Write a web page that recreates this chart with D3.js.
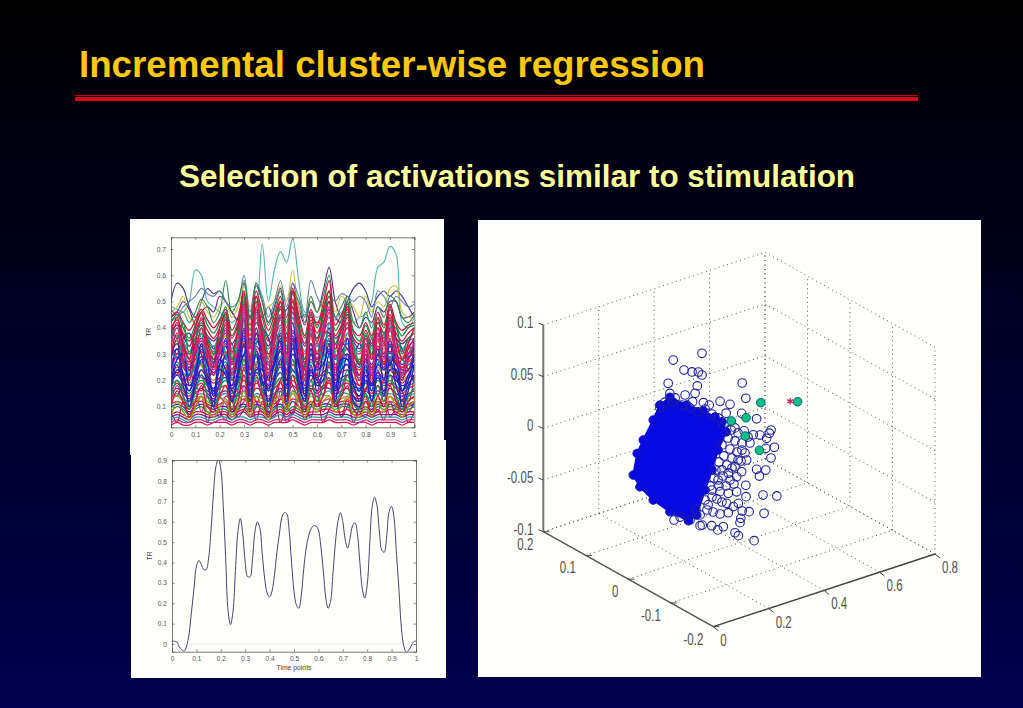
<!DOCTYPE html>
<html>
<head>
<meta charset="utf-8">
<script src="https://cdn.jsdelivr.net/npm/d3@7"></script>
<style>
  html, body { margin: 0; padding: 0; background: #000; overflow: hidden; }
  text { font-family: "Liberation Sans", Arial, sans-serif; }
</style>
</head>
<body>
<div id="chart"></div>
<script>
const titleText = 'Incremental cluster-wise regression';
const subtitleText = 'Selection of activations similar to stimulation';

// top left plot, TR in hundredths, one value every 0.025 of the time axis
const topYTicks = [0.1, 0.2, 0.3, 0.4, 0.5, 0.6, 0.7];
const timeTicks = [0, 0.1, 0.2, 0.3, 0.4, 0.5, 0.6, 0.7, 0.8, 0.9, 1];
const upperTraces = [
  [48,47,46,50,62,60,50,48,46,44,42,44,46,44,48,72,50,62,69,65,74,58,46,46,44,45,44,43,46,45,42,44,45,50,63,65,71,68,42,40,44],
  [50,57,55,48,44,50,55,53,54,50,46,43,48,44,46,44,48,43,44,47,50,44,45,44,42,46,50,44,42,50,55,57,54,48,52,54,52,54,52,48,44],
  [44,46,50,47,41,46,48,46,52,50,46,43,57,44,56,50,42,48,55,44,57,48,41,50,46,54,63,50,44,52,46,40,44,42,48,46,50,50,44,44,46],
  [46,48,52,44,42,50,46,44,48,50,44,48,56,48,52,46,48,50,56,50,62,48,44,52,46,50,54,46,52,50,48,44,52,46,50,48,55,56,46,44,44],
  [47,45,48,50,52,55,53,52,54,50,48,50,60,46,57,52,44,50,58,48,57,52,44,58,52,48,52,50,53,52,50,52,50,44,54,52,48,52,50,48,49],
  [43,44,46,42,46,51,48,42,46,58,46,50,58,43,57,50,41,47,54,42,54,50,42,52,46,52,60,44,48,52,42,40,46,40,48,44,52,50,44,42,45]
];
const upperColors = ['#55b5ad', '#3a3a90', '#5a2a80', '#c8c040', '#6a80b0', '#2a8a50'];
const bandTraces = [
  [3,4,3,3,4,4,3,4,4,4,3,4,4,3,4,4,3,4,4,4,5,4,3,4,4,4,5,4,4,4,3,4,4,3,4,4,4,4,3,4,4],
  [34,30,36,38,30,26,36,32,36,28,34,24,30,36,34,40,36,30,26,38,32,38,28,34,28,36,30,34,26,36,30,34,28,36,26,38,30,36,32,28,36],
  [44,46,42,39,43,47,43,40,43,47,39,44,53,41,54,46,39,45,52,40,55,45,37,47,41,49,58,41,45,49,39,37,42,37,46,41,49,42,39,41,42],
  [42,45,40,36,41,46,41,38,42,48,37,42,51,39,52,44,37,43,50,38,53,43,36,45,40,47,54,39,43,50,38,35,41,36,44,40,47,41,37,40,41],
  [40,43,38,35,39,43,39,36,40,45,36,41,49,37,50,41,35,41,47,36,51,41,34,43,38,44,50,37,41,47,36,34,39,34,42,38,45,38,35,38,40],
  [38,41,37,33,38,41,37,35,38,43,34,38,47,35,47,39,33,39,45,35,48,39,33,41,36,42,47,36,39,45,35,32,37,33,40,36,43,36,34,36,38],
  [36,40,35,31,36,40,35,33,36,41,32,37,45,33,45,37,32,37,43,33,46,37,31,39,35,40,44,34,38,42,33,31,36,32,38,35,41,35,32,35,36],
  [34,37,33,30,34,38,34,31,35,39,31,35,43,32,42,36,30,36,41,32,44,35,30,37,33,38,42,32,36,40,32,30,34,30,37,33,39,33,31,33,35],
  [33,35,32,28,33,36,32,30,33,37,29,33,41,30,40,34,29,34,39,30,42,33,28,36,31,36,40,31,34,38,30,28,33,29,35,32,37,32,29,32,33],
  [31,34,30,27,31,35,31,28,32,35,28,32,39,29,38,32,27,32,37,29,39,32,27,34,30,34,37,29,33,36,29,27,31,28,33,30,35,30,28,30,32],
  [29,32,28,25,30,33,29,27,30,33,26,30,37,27,36,31,26,31,35,27,37,30,25,32,28,33,35,28,31,34,27,25,30,26,32,29,33,29,26,29,30],
  [26,22,32,28,24,34,30,25,30,34,27,33,38,28,26,30,26,24,28,30,36,30,24,20,26,32,34,24,28,30,26,22,28,24,30,34,26,24,28,24,20],
  [30,34,26,24,30,26,22,28,24,30,22,26,34,24,30,25,20,26,32,28,24,22,26,32,27,30,36,26,30,34,24,28,24,22,30,26,28,30,22,30,32],
  [27,30,27,24,28,31,27,25,28,31,24,28,35,25,33,29,24,29,33,26,35,28,24,30,27,31,33,26,29,32,26,24,28,25,30,27,31,27,25,27,29],
  [25,29,25,22,26,29,26,23,26,29,23,27,33,24,31,27,23,27,31,24,32,27,22,28,25,29,31,25,28,30,24,22,27,23,28,25,29,26,23,26,27],
  [24,27,23,21,25,27,24,22,25,27,21,25,30,22,29,25,21,25,29,23,30,25,21,27,24,27,29,23,26,28,23,21,25,22,26,24,27,24,22,24,26],
  [22,30,27,22,24,21,20,16,14,11,8,9,12,16,12,8,7,9,13,18,28,21,16,24,20,17,21,15,18,22,16,13,17,19,23,20,27,30,21,24,28],
  [22,25,22,19,23,26,22,20,23,25,20,23,28,21,27,24,20,24,27,21,28,23,20,25,22,25,27,22,24,26,21,20,23,21,25,22,25,23,20,22,24],
  [21,23,20,18,21,24,21,19,21,23,18,22,26,19,25,22,18,22,25,20,26,22,18,23,21,23,25,20,23,24,20,18,22,19,23,21,24,21,19,21,22],
  [19,22,19,16,20,22,19,17,20,21,17,20,24,18,23,20,17,20,23,18,24,20,17,22,19,22,23,19,21,22,18,17,20,18,21,19,22,20,18,19,21],
  [17,14,20,24,18,16,22,14,18,26,16,14,25,18,22,14,18,12,20,24,18,14,20,16,22,14,26,18,14,22,18,12,16,22,14,20,18,24,16,12,22],
  [18,20,17,15,18,20,18,16,18,20,15,19,22,16,21,19,16,18,21,17,22,19,16,20,18,20,21,17,20,20,17,16,19,16,20,18,20,18,16,18,19],
  [16,19,16,14,17,19,16,15,17,18,14,17,20,15,19,17,14,17,19,15,20,17,15,18,16,18,19,16,18,19,16,14,17,15,18,16,19,17,15,17,18],
  [15,17,15,13,15,17,15,13,15,16,13,15,18,14,17,16,13,15,17,14,18,16,13,17,15,17,17,15,16,17,14,13,16,14,16,15,17,15,14,15,16],
  [14,15,13,12,14,15,14,12,14,15,12,14,16,12,15,14,12,14,16,13,16,14,12,15,14,15,16,13,15,15,13,12,14,13,15,14,15,14,12,14,15],
  [12,18,14,10,16,8,14,10,6,14,12,8,18,6,10,16,8,6,16,4,8,14,10,6,16,8,12,14,6,10,14,8,6,12,8,16,6,10,14,8,12],
  [12,14,12,10,13,14,12,11,13,13,10,13,14,11,14,13,11,13,14,12,15,13,11,14,12,14,14,12,13,14,12,11,13,11,13,12,14,12,11,13,13],
  [11,12,11,9,12,12,11,10,11,12,9,11,13,10,12,11,10,11,13,11,13,12,10,12,11,12,13,11,12,12,11,10,12,10,12,11,12,11,10,11,12],
  [10,11,10,8,10,11,10,9,10,10,8,10,11,9,11,10,8,10,11,9,12,10,9,11,10,11,11,10,11,11,9,9,10,9,11,10,11,10,9,10,11],
  [8,4,12,6,10,14,4,12,8,5,14,6,9,13,5,12,6,14,4,10,7,13,5,10,14,4,9,12,6,13,4,10,14,6,9,5,12,7,13,4,8],
  [8,10,9,7,9,10,8,8,9,9,7,9,10,8,10,9,7,9,10,8,10,9,8,10,9,10,10,9,10,10,8,8,9,8,10,9,10,9,8,9,10],
  [7,8,7,6,8,8,7,7,8,8,6,8,9,7,8,8,6,8,9,7,9,8,7,8,8,9,9,8,8,9,7,7,8,7,8,8,9,8,7,8,8],
  [6,7,6,5,7,7,6,6,7,7,5,7,8,6,7,7,5,7,8,6,8,7,6,7,7,7,8,7,7,7,6,6,7,6,7,7,7,7,6,7,7],
  [5,6,5,4,6,6,5,5,6,6,5,6,6,5,6,6,5,6,7,5,7,6,5,6,6,6,7,6,6,6,5,5,6,5,6,6,6,6,5,6,6],
  [4,5,4,4,5,5,4,4,5,5,4,5,5,4,5,5,4,5,5,5,6,5,4,5,5,5,6,5,5,5,4,4,5,4,5,5,5,5,4,5,5]
];
const bandColors = ['#d0144c', '#2424c4', '#c81840', '#148a4a', '#d8163c', '#7a1e8c', '#1c9c9c', '#c42a90', '#9a9c20'];
// the steep traces that cross the band, drawn last
const steepTraces = [
  [30,38,28,20,30,40,28,22,32,42,22,30,46,24,44,32,20,34,44,22,48,32,18,38,26,36,46,22,32,42,24,18,30,20,36,26,40,28,20,28,32],
  [24,32,22,16,24,34,22,16,26,36,16,24,40,18,38,26,16,28,38,18,42,26,14,32,20,30,40,18,26,36,18,14,24,16,30,20,34,22,16,22,26],
  [18,26,18,12,20,28,18,12,20,30,12,20,34,14,32,20,12,22,32,14,36,20,12,26,16,24,34,14,20,30,14,12,20,12,24,16,28,18,12,18,22],
  [36,42,32,24,34,44,32,26,36,44,26,34,50,28,48,36,24,38,48,26,50,36,22,42,30,40,50,28,36,44,28,22,32,24,40,30,44,32,24,32,36],
  [14,20,14,9,16,22,14,10,16,24,9,16,28,10,26,16,9,18,26,11,28,16,9,20,12,18,27,11,16,24,11,9,15,10,18,12,22,14,9,14,17],
  [32,28,36,22,26,38,24,30,38,30,24,34,42,20,34,40,26,30,40,26,44,38,26,30,34,28,42,30,24,38,34,26,24,30,26,38,28,34,28,26,30],
  [20,28,30,18,22,32,26,14,28,24,18,30,36,22,30,18,22,26,36,20,30,26,14,30,24,26,32,16,28,28,20,16,26,18,26,24,26,30,16,20,30],
  [10,16,12,7,12,18,10,8,14,18,8,12,22,8,20,14,7,14,20,10,22,14,8,16,10,14,20,10,14,18,9,7,12,8,14,10,18,12,8,12,14],
  [40,36,42,30,36,42,36,30,34,46,28,38,52,34,42,40,30,36,50,30,54,40,28,38,36,44,52,34,40,46,32,26,38,30,42,38,40,40,30,36,38],
  [28,36,20,22,34,30,20,26,34,38,20,28,44,16,40,28,18,38,34,24,38,34,20,34,22,38,38,20,34,32,26,20,28,22,32,24,36,26,24,24,34],
  [16,24,22,10,18,24,20,10,24,22,12,22,30,12,24,24,10,20,28,12,34,18,12,24,18,20,30,12,24,26,12,10,22,12,22,14,24,24,10,16,26],
  [38,44,34,28,40,46,34,28,40,46,30,40,54,32,52,38,28,42,50,30,54,42,26,46,34,46,54,32,40,48,30,26,36,28,44,34,48,36,28,34,40],
  [6,12,8,5,10,14,8,6,10,12,6,10,16,6,14,10,5,12,14,8,16,10,6,12,8,12,14,8,10,14,7,6,10,6,12,8,14,10,6,10,12],
  [34,40,30,26,32,36,30,24,30,40,24,32,48,26,46,34,22,36,44,24,46,34,20,40,28,38,48,24,34,40,26,20,34,22,38,28,42,30,22,30,34]
];
const steepColors = ['#d8123c', '#2020c8', '#3028b8', '#c8144c', '#188a50', '#1c9c9c', '#1c1cd0', '#d0143c', '#188c44', '#7a1e8c', '#2424c0', '#d4103c', '#9a9c20', '#c42a90'];

// bottom left plot, one value every 0.01 of the time axis
const stimYTicks = [0, 0.1, 0.2, 0.3, 0.4, 0.5, 0.6, 0.7, 0.8, 0.9];
const stimValues = [
  0.015,0.013,0.01,-0.015,-0.028,-0.035,-0.01,0.05,0.16,0.27,0.38,0.41,0.39,0.365,0.365,0.42,0.56,0.74,0.87,0.905,
  0.86,0.68,0.42,0.16,0.095,0.16,0.36,0.55,0.615,0.54,0.40,0.33,0.33,0.42,0.55,0.60,0.57,0.44,0.32,0.25,
  0.23,0.26,0.34,0.45,0.54,0.62,0.645,0.64,0.56,0.40,0.26,0.19,0.175,0.24,0.37,0.47,0.53,0.565,0.58,0.58,
  0.56,0.48,0.36,0.23,0.175,0.21,0.35,0.50,0.60,0.645,0.60,0.51,0.47,0.52,0.58,0.595,0.54,0.40,0.27,0.225,
  0.29,0.48,0.67,0.72,0.68,0.55,0.46,0.45,0.53,0.65,0.675,0.62,0.44,0.27,0.08,-0.01,-0.04,-0.03,-0.01,0.01,0.015
];
const zeroLineX = [0.05, 0.95];

const zTicks = [-0.1, -0.05, 0, 0.05, 0.1];
const yTicks = [-0.2, -0.1, 0, 0.1, 0.2];
const xTicks = [0, 0.2, 0.4, 0.6, 0.8];
const zLabels = ['-0.1', '-0.05', '0', '0.05', '0.1'];
const yLabels = ['-0.2', '-0.1', '0', '0.1', '0.2'];
const xLabels = ['0', '0.2', '0.4', '0.6', '0.8'];
const cloudX = [0.150,0.114,0.090,0.054,0.032,0.018,0.042,0.090,0.150,0.217,0.247,0.277,0.302,0.324,0.353,0.338,0.313,0.270,0.211];
const cloudZ = [0.0628,0.0585,0.0461,0.0300,0.0188,-0.0008,-0.0143,-0.0313,-0.0479,-0.0625,-0.0596,-0.0380,-0.0209,-0.0034,0.0115,0.0225,0.0295,0.0391,0.0500];
const pointX = [
  0.266,0.162,0.201,0.230,0.253,0.266,0.144,0.249,0.411,0.424,0.150,0.241,0.205,0.169,0.331,0.367,0.271,0.292,0.232,0.353,
  0.409,0.463,0.515,0.509,0.475,0.499,0.451,0.527,0.496,0.515,0.463,0.496,0.473,0.424,0.486,0.536,0.490,0.436,0.411,0.406,
  0.403,0.385,0.397,0.454,0.343,0.323,0.301,0.259,0.267,0.165,0.331,0.361,0.379,0.355,0.397,0.425,0.391,0.361,0.331,0.367,
  0.391,0.361,0.409,0.385,0.427,0.410,0.114,0.132,0.161,0.194,0.223,0.252,0.277,0.302,0.324,0.356,0.385,0.439,0.421,0.396,
  0.374,0.338,0.324,0.302,0.338,0.288,0.306,0.259,0.223,0.187,
  0.345,0.371,0.396,0.418,0.360,0.385,0.410,0.432,0.338,0.367,0.392,0.345,0.374,0.327,0.356,0.316,0.342,0.309,0.327,0.295,
  0.302,0.277,0.320,0.284,0.244,0.353,0.381,0.407
];
const pointZ = [
  0.0952,0.0978,0.0847,0.0803,0.0782,0.0742,0.0769,0.0651,0.0537,0.0378,0.0666,0.0587,0.0602,0.0605,0.0430,0.0369,0.0470,0.0428,0.0513,0.0296,
  0.0245,0.0145,-0.0009,-0.0035,-0.0023,-0.0076,0.0001,-0.0187,-0.0170,-0.0280,-0.0344,-0.0380,-0.0418,-0.0464,-0.0613,-0.0666,-0.0793,-0.0730,-0.0702,-0.0768,
  -0.0807,-0.0889,-0.0928,-0.1026,-0.0794,-0.0807,-0.0747,-0.0710,-0.0711,-0.0572,-0.0660,-0.0674,-0.0631,-0.0578,-0.0615,-0.0575,-0.0498,-0.0486,-0.0444,-0.0363,
  -0.0353,-0.0292,-0.0320,-0.0250,-0.0222,-0.0111,0.0556,0.0597,0.0573,0.0515,0.0461,0.0397,0.0403,0.0333,0.0276,0.0208,0.0125,-0.0068,-0.0149,-0.0195,
  -0.0253,-0.0240,-0.0325,-0.0403,-0.0550,-0.0534,-0.0619,-0.0606,-0.0623,-0.0563,
  0.0189,0.0118,0.0067,0.0068,0.0050,-0.0001,-0.0043,-0.0004,0.0002,-0.0063,-0.0114,-0.0111,-0.0156,-0.0153,-0.0208,-0.0222,-0.0302,-0.0292,-0.0385,-0.0357,
  -0.0470,-0.0477,-0.0505,-0.0580,-0.0545,-0.0408,-0.0414,-0.0214
];
const selectedX = [0.478,0.372,0.425,0.422,0.473,0.611];
const selectedZ = [0.0288,0.0204,0.0189,0.0014,-0.0169,0.0180];
const stimulationX = [0.584];
const stimulationZ = [0.0209];

const width = 1023, height = 708;
const svg = d3.select('#chart').append('svg').
attr('width', width).
attr('height', height).
style('display', 'block');

const defs = svg.append('defs');
const bg = defs.append('linearGradient').attr('id', 'bg').attr('x1', 0).attr('y1', 0).attr('x2', 0).attr('y2', 1);
bg.append('stop').attr('offset', '0%').attr('stop-color', '#000000');
bg.append('stop').attr('offset', '100%').attr('stop-color', '#00004e');
defs.append('filter').attr('id', 'soft').append('feGaussianBlur').attr('stdDeviation', 0.4);

svg.append('rect').attr('width', width).attr('height', height).attr('fill', 'url(#bg)');

svg.append('text').text(titleText).
attr('x', 79).attr('y', 77).
attr('font-size', 36.7).attr('font-weight', 'bold').attr('fill', '#ffc80a');
svg.append('rect').attr('x', 75).attr('y', 95).attr('width', 843).attr('height', 1).attr('fill', '#c00010');
svg.append('rect').attr('x', 75).attr('y', 97).attr('width', 843).attr('height', 4).attr('fill', '#d80c14');
svg.append('text').text(subtitleText).
attr('x', 179).attr('y', 187).
attr('font-size', 31.45).attr('font-weight', 'bold').attr('fill', '#ffff99');

// white panels behind the plots
const panels = [[131, 440, 315, 238], [130, 219, 314, 236], [478, 220, 503, 457]];
svg.selectAll('.panel').data(panels).enter().append('rect').
attr('class', 'panel').
attr('x', d => d[0]).attr('y', d => d[1]).
attr('width', d => d[2]).attr('height', d => d[3]).
attr('fill', '#fffffc');

function drawFrame(id, xScale, yScale, yValues, xLabel) {
  const g = svg.append('g').attr('class', id);
  const fmt = d => String(d);
  const left = d3.axisLeft(yScale).tickValues(yValues).tickSize(-2.5).tickPadding(5).tickFormat(fmt);
  const right = d3.axisRight(yScale).tickValues(yValues).tickSize(-2.5).tickFormat('');
  const bottom = d3.axisBottom(xScale).tickValues(timeTicks).tickSize(-2.5).tickPadding(5).tickFormat(fmt);
  const top = d3.axisTop(xScale).tickValues(timeTicks).tickSize(-2.5).tickFormat('');
  g.append('g').attr('transform', 'translate(' + xScale.range()[0] + ',0)').call(left);
  g.append('g').attr('transform', 'translate(' + xScale.range()[1] + ',0)').call(right);
  g.append('g').attr('transform', 'translate(0,' + yScale.range()[0] + ')').call(bottom);
  g.append('g').attr('transform', 'translate(0,' + yScale.range()[1] + ')').call(top);
  g.selectAll('path.domain').attr('stroke', '#555').attr('stroke-width', 0.8);
  g.selectAll('.tick line').attr('stroke', '#555').attr('stroke-width', 0.7);
  g.selectAll('.tick text').attr('font-size', 6.6).attr('fill', '#555');
  g.selectAll('text').attr('font-family', '"Liberation Sans", Arial, sans-serif');
  const mid = (yScale.range()[0] + yScale.range()[1]) / 2;
  g.append('text').text('TR').
  attr('transform', 'translate(' + (xScale.range()[0] - 20) + ',' + mid + ') rotate(-90)').
  attr('text-anchor', 'middle').attr('font-size', 6.8).attr('fill', '#444');
  if (xLabel) {
    g.append('text').text(xLabel).
    attr('x', (xScale.range()[0] + xScale.range()[1]) / 2).
    attr('y', yScale.range()[0] + 18.5).
    attr('text-anchor', 'middle').attr('font-size', 6.8).attr('fill', '#444');
  }
}

function addClip(id, xScale, yScale) {
  defs.append('clipPath').attr('id', id).append('rect').
  attr('x', xScale.range()[0]).attr('y', yScale.range()[1]).
  attr('width', xScale.range()[1] - xScale.range()[0]).
  attr('height', yScale.range()[0] - yScale.range()[1]);
}

// top left: all the activations
const topX = d3.scaleLinear().domain([0, 1]).range([171, 414.3]);
const topY = d3.scaleLinear().domain([0.0216, 0.7445]).range([427.3, 237.3]);
addClip('clipTop', topX, topY);
const traceLine = d3.line().
x((d, i) => topX(i * 0.025)).
y(d => topY(d / 100)).
curve(d3.curveCatmullRom);

const traces = svg.append('g').attr('clip-path', 'url(#clipTop)').attr('filter', 'url(#soft)').attr('fill', 'none');
traces.selectAll('.upper').data(upperTraces).enter().append('path').
attr('class', 'upper').
attr('d', traceLine).
attr('stroke', (d, i) => upperColors[i]).
attr('stroke-width', 1.1);
traces.selectAll('.band').data(bandTraces).enter().append('path').
attr('class', 'band').
attr('d', traceLine).
attr('stroke', (d, i) => bandColors[i % bandColors.length]).
attr('stroke-width', 1.3);
traces.selectAll('.steep').data(steepTraces).enter().append('path').
attr('class', 'steep').
attr('d', traceLine).
attr('stroke', (d, i) => steepColors[i]).
attr('stroke-width', 1.4);
drawFrame('topFrame', topX, topY, topYTicks, null);

// bottom left: the stimulation
const stimX = d3.scaleLinear().domain([0, 1]).range([172, 416]);
const stimY = d3.scaleLinear().domain([-0.038, 0.903]).range([651.7, 460]);
addClip('clipStim', stimX, stimY);
const stim = svg.append('g').attr('clip-path', 'url(#clipStim)').attr('fill', 'none');
stim.append('line').
attr('x1', stimX(zeroLineX[0])).attr('x2', stimX(zeroLineX[1])).
attr('y1', stimY(0)).attr('y2', stimY(0)).
attr('stroke', '#a8d8d8').attr('stroke-width', 0.8).attr('stroke-dasharray', '1 1.5');
stim.append('path').datum(stimValues).
attr('d', d3.line().x((d, i) => stimX(i * 0.01)).y(d => stimY(d)).curve(d3.curveCatmullRom)).
attr('stroke', '#44446e').attr('stroke-width', 1);
drawFrame('stimFrame', stimX, stimY, stimYTicks, 'Time points');

// right: 3d scatter, oblique projection through one scale per axis direction
const origin = [713.3, 626.7];
const xToH = d3.scaleLinear().domain([0, 0.8]).range([0, 221.7]);
const xToV = d3.scaleLinear().domain([0, 0.8]).range([0, -72.7]);
const yToH = d3.scaleLinear().domain([-0.2, 0.2]).range([0, -170]);
const yToV = d3.scaleLinear().domain([-0.2, 0.2]).range([0, -95]);
const zToV = d3.scaleLinear().domain([-0.1, 0.1]).range([0, -206.7]);
const project = (x, y, z) => [origin[0] + xToH(x) + yToH(y), origin[1] + xToV(x) + yToV(y) + zToV(z)];

const xMin = 0, xMax = 0.8, yMin = -0.2, yMax = 0.2, zMin = -0.1, zMax = 0.1;
const grid = [];
xTicks.forEach(x => {
  grid.push([[x, yMin, zMin], [x, yMax, zMin]]);
  grid.push([[x, yMax, zMin], [x, yMax, zMax]]);
});
yTicks.forEach(y => {
  grid.push([[xMin, y, zMin], [xMax, y, zMin]]);
  grid.push([[xMax, y, zMin], [xMax, y, zMax]]);
});
zTicks.forEach(z => {
  grid.push([[xMin, yMax, z], [xMax, yMax, z]]);
  grid.push([[xMax, yMin, z], [xMax, yMax, z]]);
});
const scatter = svg.append('g');
scatter.selectAll('.grid').data(grid).enter().append('line').
attr('class', 'grid').
attr('x1', d => project(...d[0])[0]).attr('y1', d => project(...d[0])[1]).
attr('x2', d => project(...d[1])[0]).attr('y2', d => project(...d[1])[1]).
attr('stroke', '#555').attr('stroke-width', 1).attr('stroke-dasharray', '1 3.5');

// axes
const axisLines = [
  { from: [xMin, yMax, zMin], to: [xMin, yMax, zMax], color: '#777', w: 2 },
  { from: [xMin, yMin, zMin], to: [xMin, yMax, zMin], color: '#555', w: 1.4 },
  { from: [xMin, yMin, zMin], to: [xMax, yMin, zMin], color: '#444', w: 1.4 }
];
scatter.selectAll('.axis3d').data(axisLines).enter().append('line').
attr('class', 'axis3d').
attr('x1', d => project(...d.from)[0]).attr('y1', d => project(...d.from)[1]).
attr('x2', d => project(...d.to)[0]).attr('y2', d => project(...d.to)[1]).
attr('stroke', d => d.color).attr('stroke-width', d => d.w);

function axisTicks(values, labels, toPoint, tick, labelAt, anchor) {
  values.forEach((v, i) => {
    const p = toPoint(v);
    scatter.append('line').
    attr('x1', p[0]).attr('y1', p[1]).
    attr('x2', p[0] + tick[0]).attr('y2', p[1] + tick[1]).
    attr('stroke', '#444').attr('stroke-width', 1);
    scatter.append('text').text(labels[i]).
    attr('transform', 'translate(' + (p[0] + labelAt[0]) + ',' + (p[1] + labelAt[1]) + ') scale(0.72,1)').
    attr('text-anchor', anchor).
    attr('font-size', 16).attr('fill', '#505050');
  });
}
axisTicks(zTicks, zLabels, z => project(xMin, yMax, z), [-5, -2], [-10, 3], 'end');
axisTicks(yTicks, yLabels, y => project(xMin, y, zMin), [6, 0], [-10, 18], 'end');
axisTicks(xTicks, xLabels, x => project(x, yMin, zMin), [5, 4], [7, 19], 'start');

// blue cloud
const cloudPts = cloudX.map((x, i) => project(x, 0, cloudZ[i]));
scatter.append('path').datum(cloudPts).
attr('d', d3.line().curve(d3.curveLinearClosed)).
attr('fill', '#0808e0').attr('stroke', '#0808e0').attr('stroke-width', 2);
scatter.selectAll('.rim').data(cloudPts).enter().append('circle').
attr('class', 'rim').
attr('cx', d => d[0]).attr('cy', d => d[1]).attr('r', 4.3).
attr('fill', '#0808e0').attr('stroke', '#1414c0').attr('stroke-width', 1);
scatter.selectAll('.pt').data(pointX.map((x, i) => project(x, 0, pointZ[i]))).enter().append('circle').
attr('class', 'pt').
attr('cx', d => d[0]).attr('cy', d => d[1]).attr('r', 4.3).
attr('fill', 'none').attr('stroke', '#22229c').attr('stroke-width', 1.1);
scatter.selectAll('.sel').data(selectedX.map((x, i) => project(x, 0, selectedZ[i]))).enter().append('circle').
attr('class', 'sel').
attr('cx', d => d[0]).attr('cy', d => d[1]).attr('r', 4.3).
attr('fill', '#0cc088').attr('stroke', '#0c5c70').attr('stroke-width', 1);
scatter.selectAll('.stim').data(stimulationX.map((x, i) => project(x, 0, stimulationZ[i]))).enter().append('path').
attr('class', 'stim').
attr('transform', d => 'translate(' + d[0] + ',' + d[1] + ')').
attr('d', d3.symbol(d3.symbolAsterisk, 30)).
attr('fill', 'none').attr('stroke', '#d02858').attr('stroke-width', 1.4);
</script>
</body>
</html>
